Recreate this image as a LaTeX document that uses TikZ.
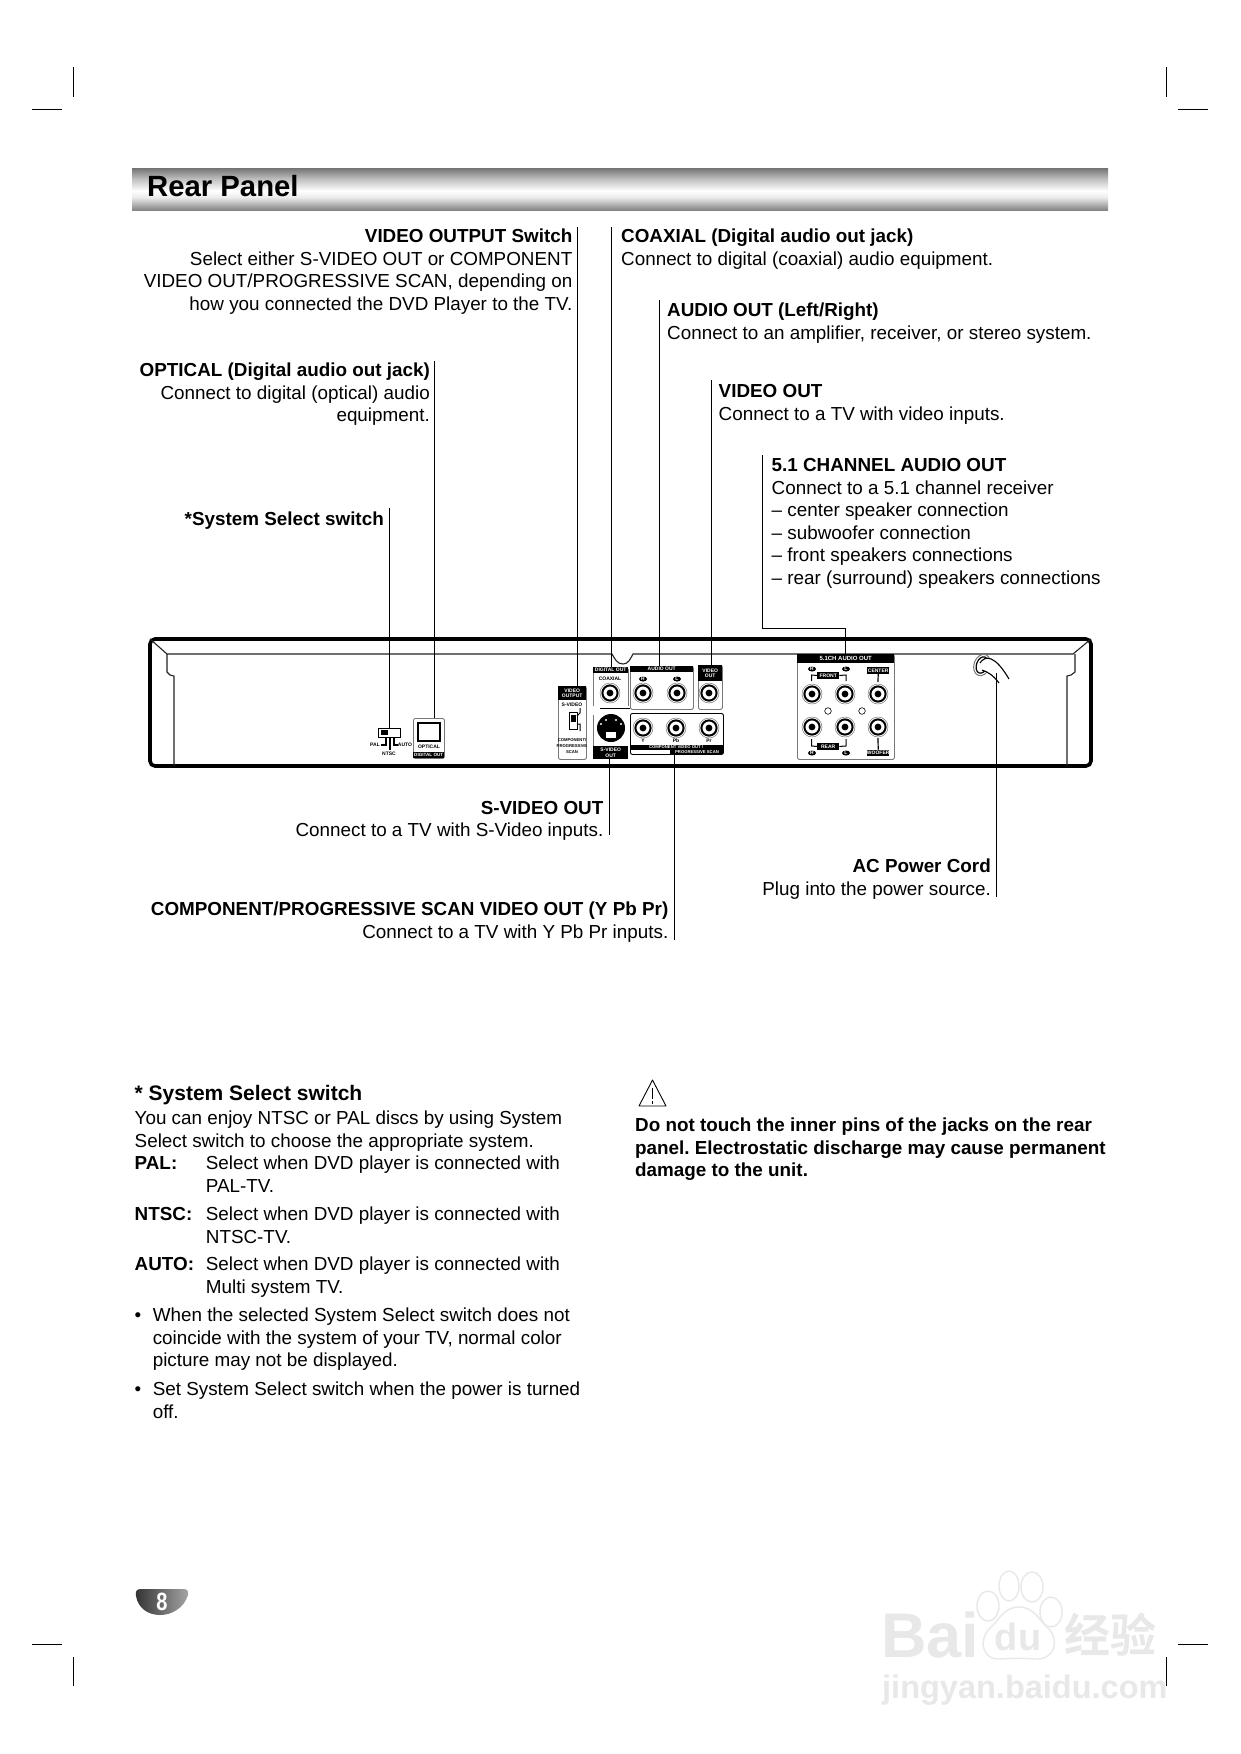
\documentclass[tikz,border=0pt]{standalone}
\usepackage{fontspec}
\setmainfont{Liberation Sans}
\newfontfamily\cjkfont{Noto Sans CJK SC}[BoldFont={* Bold}]
\usetikzlibrary{calc,positioning,shapes.geometric}
\definecolor{rpline}{RGB}{35,35,35}
\definecolor{rpgray}{RGB}{120,120,120}
\definecolor{rpmark}{RGB}{232,232,232}
\pgfdeclareverticalshading{barshade}{100bp}{color(0bp)=(black!48);color(25bp)=(black!48);color(40bp)=(black!8);color(48bp)=(white);color(62bp)=(black!25);color(75bp)=(black!55);color(100bp)=(black!55)}
\newcommand{\jack}[2]{%
  \draw[rpgray,line width=.5pt] (#1,#2) circle (10);
  \draw[black,line width=2pt] (#1,#2) circle (7.6);
  \fill[black] (#1,#2) circle (3.4);
}
\begin{document}
\frenchspacing
\begin{tikzpicture}[x=1pt,y=-1pt,line cap=butt,
    every node/.style={inner sep=0pt},
    body/.style={font=\fontsize{18.85}{22.5}\selectfont,align=left,anchor=north west},
    bodyr/.style={font=\fontsize{18.85}{22.5}\selectfont,align=right,anchor=north east},
    bodyb/.style={font=\fontsize{18.85}{22.5}\selectfont\bfseries,align=left,anchor=north west},
    leader/.style={draw=black,line width=.9pt},
    crop/.style={draw=black,line width=.9pt},
    tiny/.style={font=\fontsize{5}{6}\selectfont\bfseries},
    tinyw/.style={font=\fontsize{5}{6}\selectfont\bfseries,text=white,align=center},
    portbox/.style={draw=rpgray,line width=.9pt,rounded corners=2pt,fill=white,anchor=north west},
    band/.style={fill=black,anchor=north west},
    wmark/.style={text=rpmark}]
  \useasboundingbox (0,0) rectangle (1240,1754);
  \fill[white] (0,0) rectangle (1240,1754);

  \draw[crop] (73,67)--(73,97) (32,109)--(62,109);
  \draw[crop] (1166,67)--(1166,97) (1178,109)--(1208,109);
  \draw[crop] (73,1657)--(73,1686) (32,1644)--(62,1644);
  \draw[crop] (1166,1657)--(1166,1686) (1178,1644)--(1208,1644);

  \shade[shading=barshade] (132,168) rectangle (1108,210);
  \node[font=\fontsize{29.3}{36}\selectfont\bfseries,anchor=base west] (title) at (147,196) {Rear Panel};

  \node[bodyr] (tvidsw) at (572.5,228.7) {\textbf{VIDEO OUTPUT Switch}\\Select either S-VIDEO OUT or COMPONENT\\VIDEO OUT/PROGRESSIVE SCAN, depending on\\how you connected the DVD Player to the TV.};
  \node[body] (tcoax) at (621,228.7) {\textbf{COAXIAL (Digital audio out jack)}\\Connect to digital (coaxial) audio equipment.};
  \node[body] (taudio) at (667,303) {\textbf{AUDIO OUT (Left/Right)}\\Connect to an amplifier, receiver, or stereo system.};
  \node[body] (tvideo) at (718.5,384.2) {\textbf{VIDEO OUT}\\Connect to a TV with video inputs.};
  \node[body] (tfive) at (771.5,458.2) {\textbf{5.1 CHANNEL AUDIO OUT}\\Connect to a 5.1 channel receiver\\-- center speaker connection\\-- subwoofer connection\\-- front speakers connections\\-- rear (surround) speakers connections};
  \node[bodyr] (topt) at (430,362.7) {\textbf{OPTICAL (Digital audio out jack)}\\Connect to digital (optical) audio\\equipment.};
  \node[bodyr] (tsys) at (384,511.7) {\textbf{*System Select switch}};
  \node[bodyr] (tsvid) at (603.5,801) {\textbf{S-VIDEO OUT}\\Connect to a TV with S-Video inputs.};
  \node[bodyr] (tcomp) at (668.5,902) {\textbf{COMPONENT/PROGRESSIVE SCAN VIDEO OUT (Y Pb Pr)}\\Connect to a TV with Y Pb Pr inputs.};
  \node[bodyr] (tac) at (991,859) {\textbf{AC Power Cord}\\Plug into the power source.};

  \draw[line width=3.6pt,rounded corners=5pt,black] (150,639) rectangle (1091,766);
  \draw[rpline,line width=1.1pt] (150,639)--(167,654)--(612,654) to[out=-60,in=180] (623,664) to[out=0,in=-120] (633,654)--(1073,654)--(1091,639);
  \draw[rpline,line width=1.1pt] (167,654)--(167,672)--(170,675)--(174,676)--(174,766);
  \draw[rpline,line width=1.1pt] (1075,654)--(1075,672)--(1071,675)--(1067,676)--(1067,766);

  \node[draw=black,line width=.8pt,fill=white,minimum width=22pt,minimum height=9pt,anchor=north west] (syssw) at (378,728) {};
  \fill[black] (381,730) rectangle (388,735);
  \draw[black,line width=1.2pt] (386,737)--(386,745)--(381,745) (390,737)--(390,750) (394,737)--(394,745)--(398,745);
  \node[tiny] (lpal) at (375,745) {PAL};
  \node[tiny] (lauto) at (405,745) {AUTO};
  \node[tiny] (lntsc) at (389,754) {NTSC};

  \node[portbox,minimum width=31pt,minimum height=40pt] (optbox) at (413,718) {};
  \node[band,minimum width=31pt,minimum height=6pt] (optband) at (413,752) {};
  \node[tinyw,font=\fontsize{4.6}{6}\selectfont\bfseries] (loptband) at (optband) {DIGITAL OUT};
  \draw[black,line width=1.8pt] (418,723) rectangle (440,741);
  \node[tiny] (lopt) at (429,747) {OPTICAL};

  \node[portbox,minimum width=28pt,minimum height=73pt] (vidsw) at (558,686) {};
  \node[band,minimum width=28pt,minimum height=14pt] (vidswband) at (558,686) {};
  \node[tinyw] (lvidsw) at (vidswband) {VIDEO\\[-.5pt]OUTPUT};
  \node[tiny] (lsv) at (572,705) {S-VIDEO};
  \draw[black,line width=.8pt] (569,712) rectangle (577,729);
  \fill[black] (570.5,715) rectangle (575.5,722);
  \draw[black,line width=1pt] (577,716)--(580,713)--(580,708) (577,724)--(580,724)--(580,731);
  \node[font=\fontsize{4.2}{6}\selectfont\bfseries,align=center] (lcps) at (572,746) {COMPONENT/\\PROGRESSIVE\\SCAN};

  \draw[rpgray,line width=.9pt] (593,706)--(593,669) (628,669)--(628,706) (593,715)--(593,746);
  \draw[black,line width=.9pt] (600,708)--(630,708);
  \node[band,minimum width=35pt,minimum height=6pt] (digband) at (593,667) {};
  \node[tinyw] (ldig) at (digband) {DIGITAL OUT};
  \node[tiny] (lcoax) at (610,679) {COAXIAL};
  \jack{610}{693}
  \node[circle,fill=black,minimum size=28pt] (svid) at (611,728) {};
  \fill[white] (601,724) circle (1.2) (621,724) circle (1.2) (606,720) circle (1.2) (616,720) circle (1.2);
  \fill[white] (606,732) rectangle (616,738);
  \node[band,minimum width=35pt,minimum height=13pt] (svband) at (593,746) {};
  \node[tinyw] (lsvband) at (svband) {S-VIDEO\\[-.5pt]OUT};

  \node[portbox,minimum width=63pt,minimum height=43pt] (audbox) at (630,666) {};
  \node[band,minimum width=63pt,minimum height=6pt] (audband) at (630,666) {};
  \node[tinyw] (laud) at (audband) {AUDIO OUT};
  \foreach \x/\t in {643/R,677/L} {
    \node[ellipse,fill=black,minimum width=8pt,minimum height=5pt,tinyw] at (\x,679) {\t};
    \jack{\x}{693}
  }

  \node[portbox,minimum width=24pt,minimum height=44pt] (vidbox) at (698,665) {};
  \node[band,minimum width=24pt,minimum height=16pt] (vidband) at (698,665) {};
  \node[tinyw] (lvid) at (vidband) {VIDEO\\[-.5pt]OUT};
  \jack{709}{693}

  \node[portbox,draw=black,minimum width=93pt,minimum height=41pt] (compbox) at (630,713) {};
  \node[band,minimum width=93pt,minimum height=5pt] (compband) at (630,745) {};
  \node[band,minimum width=53pt,minimum height=4.5pt] (progband) at (670,749.5) {};
  \node[tinyw,font=\fontsize{4.2}{5}\selectfont\bfseries] (lcomp) at (676,747.5) {COMPONENT VIDEO OUT /};
  \node[tinyw,font=\fontsize{4.2}{5}\selectfont\bfseries] (lprog) at (697,751.8) {PROGRESSIVE SCAN};
  \foreach \x/\t in {643/Y,676/Pb,709/Pr} {
    \jack{\x}{728}
    \node[tiny] at (\x,740.5) {\t};
  }

  \node[portbox,minimum width=97pt,minimum height=105pt] (fivebox) at (797,654) {};
  \node[band,minimum width=97pt,minimum height=9pt] (fiveband) at (797,654) {};
  \node[tinyw,font=\fontsize{6}{7}\selectfont\bfseries] (lfive) at (fiveband) {5.1CH AUDIO OUT};
  \foreach \x in {812,845,878} {
    \jack{\x}{694}
    \jack{\x}{727}
  }
  \draw[black,line width=.6pt] (828,711) circle (3.3) (862,711) circle (3.3);
  \foreach \x/\y/\t in {812/669/R,846/669/L,812/753/R,846/753/L} {
    \node[ellipse,fill=black,minimum width=8pt,minimum height=5pt,tinyw] at (\x,\y) {\t};
  }
  \node[band,minimum width=22pt,minimum height=6.5pt] (frontbox) at (817,672) {};
  \node[tinyw] (lfront) at (frontbox) {FRONT};
  \node[band,minimum width=22pt,minimum height=6.5pt] (rearbox) at (817,743) {};
  \node[tinyw] (lrear) at (rearbox) {REAR};
  \node[band,minimum width=22pt,minimum height=6.5pt] (cenbox) at (867,667) {};
  \node[tinyw] (lcen) at (cenbox) {CENTER};
  \node[band,minimum width=22pt,minimum height=6.5pt] (woofbox) at (867,749.5) {};
  \node[tinyw] (lwoof) at (woofbox) {WOOFER};
  \draw[black,line width=1pt] (811.5,681)--(811.5,675)--(frontbox.west) (846,681)--(846,675)--(frontbox.east);
  \draw[black,line width=1pt] (811.5,739)--(811.5,746)--(rearbox.west) (846,739)--(846,746)--(rearbox.east);
  \draw[black,line width=1.2pt] (cenbox.south)--(878,682) (878,738)--(woofbox.north);

  \draw[rpgray,line width=1pt,rotate around={-20:(982,665)}] (982,665) ellipse (8 and 11);
  \draw[black,line width=1.2pt,rotate around={-20:(982,665)}] (982,665) ellipse (5.5 and 8.5);
  \fill[white] (980,663) .. controls (985,655) and (995,655) .. (1009,679)--(999,683) .. controls (993,675) and (988,672) .. (982,670)--cycle;
  \draw[black,line width=1.1pt] (980,663) .. controls (985,655) and (995,655) .. (1009,679);
  \draw[black,line width=1.1pt] (982,670) .. controls (988,672) and (993,675) .. (999,683);
  \coordinate (cord) at (996.5,673);

  \coordinate (vidswtop) at (577,227);
  \coordinate (coaxtop) at (611,227);
  \coordinate (audtop) at (659.5,300);
  \coordinate (vidtop) at (711,380);
  \coordinate (fivetop) at (762.5,455);
  \coordinate (fivecorner) at (762.5,628);
  \coordinate (opttop) at (434,361);
  \coordinate (systop) at (389,508);
  \coordinate (svbot) at (609,835);
  \coordinate (compbot) at (674,940);
  \coordinate (acbot) at (996.5,897);
  \draw[leader] (vidswtop)--(vidswtop |- vidsw.north);
  \draw[leader] (coaxtop)--(coaxtop |- digband.north);
  \draw[leader] (audtop)--(audtop |- audband.north);
  \draw[leader] (vidtop)--(vidtop |- vidband.north);
  \draw[leader] (fivetop)--(fivecorner)-|(fiveband.north);
  \draw[leader] (opttop)--(opttop |- optbox.north);
  \draw[leader] (systop)--(systop |- syssw.north);
  \draw[leader] (svbot)--(svbot |- svband.south);
  \draw[leader] (compbot)--(compbot |- progband.south);
  \draw[leader] (acbot)--(cord);

  \node[font=\fontsize{21}{24}\selectfont\bfseries,anchor=north west] (hsys) at (134.5,1085.5) {* System Select switch};
  \node[body] (psys) at (134.5,1111) {You can enjoy NTSC or PAL discs by using System\\Select switch to choose the appropriate system.};
  \node[bodyb] (kpal) at (134.5,1156) {PAL:};
  \node[body] (vpal) at (205.7,1156) {Select when DVD player is connected with\\PAL-TV.};
  \node[bodyb] (kntsc) at (134.5,1207) {NTSC:};
  \node[body] (vntsc) at (205.7,1207) {Select when DVD player is connected with\\NTSC-TV.};
  \node[bodyb] (kauto) at (134.5,1257) {AUTO:};
  \node[body] (vauto) at (205.7,1257) {Select when DVD player is connected with\\Multi system TV.};
  \node[body] (bul1) at (134.5,1308) {\vphantom{Wh}•};
  \node[body] (pbul1) at (152.6,1308) {When the selected System Select switch does not\\coincide with the system of your TV, normal color\\picture may not be displayed.};
  \node[body] (bul2) at (134.5,1382) {\vphantom{Wh}•};
  \node[body] (pbul2) at (152.6,1382) {Set System Select switch when the power is turned\\off.};

  \draw[black,line width=.9pt,line join=round] (652.5,1080)--(666,1106)--(639,1106)--cycle;
  \draw[black,line width=1.1pt] (652.5,1088)--(652.5,1099) (652.5,1101)--(652.5,1104);
  \node[bodyb] (pcaution) at (635,1118) {Do not touch the inner pins of the jacks on the rear\\panel. Electrostatic discharge may cause permanent\\damage to the unit.};

  \shade[left color=black!80,right color=black!35] (141,1589)--(183,1589) .. controls (187,1589) and (189,1591) .. (188,1595) .. controls (184,1608) and (172,1615) .. (160,1615) .. controls (148,1615) and (138,1608) .. (136,1596) .. controls (135,1591) and (137,1589) .. (141,1589)--cycle;
  \node[font=\fontsize{25}{25}\selectfont\bfseries,text=white,xscale=.8] (pagenum) at (162,1602) {8};

  \draw[rpmark,line width=1.4pt] (988,1606) ellipse (11 and 15) (1009,1586) ellipse (10 and 15) (1032,1587) ellipse (11 and 15) (1051,1612) ellipse (11 and 15);
  \draw[rpmark,line width=1.4pt] (1019,1607) .. controls (1035,1607) and (1040,1622) .. (1048,1628) .. controls (1060,1640) and (1055,1660) .. (1035,1659) .. controls (1025,1658) and (1012,1658) .. (1000,1659) .. controls (982,1660) and (978,1640) .. (990,1628) .. controls (998,1622) and (1003,1607) .. (1019,1607)--cycle;
  \node[wmark,font=\fontsize{63}{63}\selectfont\bfseries,anchor=base west] (mbai) at (881,1657) {Bai};
  \node[wmark,font=\fontsize{38}{38}\selectfont\bfseries,anchor=base] (mdu) at (1018,1650) {du};
  \node[wmark,font=\fontsize{46}{46}\cjkfont\bfseries,anchor=center] (mexp) at (1110,1635) {经验};
  \node[wmark,font=\fontsize{32.5}{33}\selectfont\bfseries,anchor=base west] (murl) at (882,1698) {jingyan.baidu.com};
\end{tikzpicture}
\end{document}
